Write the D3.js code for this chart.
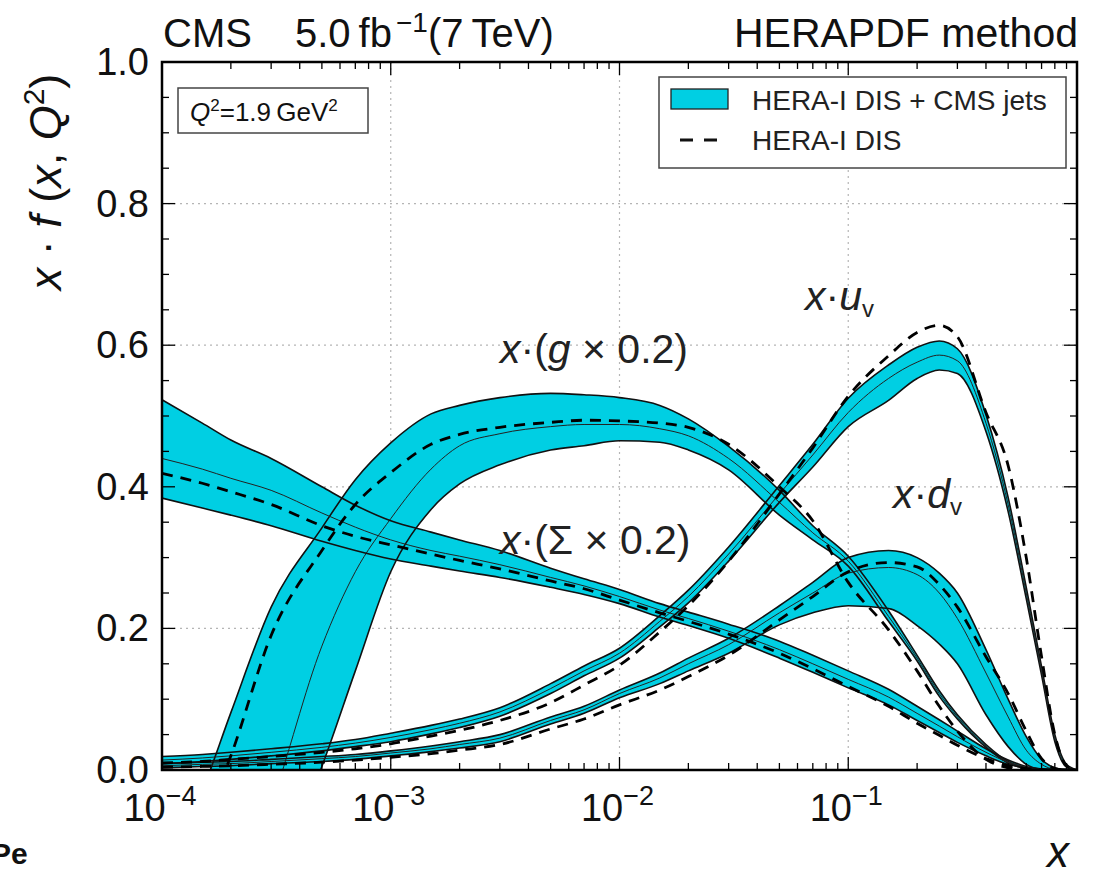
<!DOCTYPE html>
<html><head><meta charset="utf-8">
<script src="https://cdn.jsdelivr.net/npm/d3@7"></script>
<style>body{margin:0;background:#fff}svg{display:block}text{font-family:"Liberation Sans",Arial,sans-serif}</style>
</head><body>
<svg id="c" width="1099" height="877"></svg>
<script>
// ---- data ----
const xs = [1e-4,1.5e-4,2e-4,3e-4,5e-4,7e-4,1e-3,1.5e-3,2e-3,3e-3,5e-3,7e-3,0.01,0.015,0.02,0.03,0.05,0.07,0.1,0.15,0.2,0.25,0.3,0.4,0.5,0.6,0.7,0.8,0.9,1.0];

const gluonUp  = [-0.15,-0.03,0.081,0.23,0.342,0.41,0.462,0.503,0.515,0.526,0.532,0.530,0.526,0.515,0.496,0.457,0.395,0.345,0.302,0.225,0.162,0.112,0.078,0.036,0.012,0.003,0,0,0,0];
const gluonCen = [-0.4,-0.3,-0.2,-0.05,0.175,0.28,0.355,0.425,0.458,0.475,0.485,0.488,0.488,0.482,0.472,0.44,0.378,0.335,0.295,0.217,0.158,0.108,0.075,0.034,0.011,0.002,0,0,0,0];
const gluonLo  = [-0.6,-0.45,-0.33,-0.17,0.005,0.14,0.28,0.368,0.404,0.431,0.452,0.458,0.465,0.463,0.452,0.424,0.36,0.325,0.288,0.21,0.154,0.104,0.072,0.032,0.01,0.002,0,0,0,0];
const gluonDIS = [-0.3,-0.08,0.02,0.19,0.31,0.375,0.42,0.46,0.474,0.484,0.491,0.494,0.493,0.49,0.484,0.46,0.40,0.352,0.265,0.198,0.14,0.09,0.055,0.015,0.003,0,0,0,0,0];

const sigmaUp  = [0.523,0.49,0.466,0.44,0.40,0.374,0.352,0.336,0.325,0.31,0.285,0.27,0.255,0.235,0.223,0.206,0.182,0.162,0.14,0.114,0.09,0.071,0.055,0.03,0.014,0.005,0.0015,0,0,0];
const sigmaCen = [0.44,0.425,0.412,0.395,0.363,0.343,0.325,0.31,0.302,0.29,0.272,0.26,0.245,0.226,0.214,0.196,0.17,0.15,0.128,0.103,0.08,0.062,0.047,0.025,0.011,0.004,0.001,0,0,0];
const sigmaLo  = [0.384,0.37,0.36,0.345,0.323,0.31,0.298,0.288,0.281,0.272,0.258,0.248,0.235,0.216,0.204,0.186,0.158,0.138,0.116,0.092,0.07,0.053,0.039,0.02,0.008,0.003,0.0005,0,0,0];
const sigmaDIS = [0.419,0.405,0.393,0.375,0.345,0.33,0.318,0.305,0.296,0.284,0.267,0.256,0.24,0.222,0.21,0.192,0.165,0.143,0.118,0.09,0.066,0.049,0.035,0.016,0.006,0.002,0,0,0,0];

const uvUp  = [0.019,0.022,0.025,0.03,0.037,0.043,0.052,0.063,0.072,0.088,0.122,0.147,0.172,0.218,0.254,0.315,0.402,0.46,0.525,0.572,0.597,0.606,0.595,0.502,0.385,0.258,0.146,0.05,0.008,0];
const uvCen = [0.014,0.017,0.02,0.025,0.032,0.038,0.046,0.057,0.066,0.082,0.115,0.14,0.165,0.21,0.245,0.305,0.39,0.445,0.505,0.553,0.576,0.586,0.578,0.49,0.375,0.25,0.14,0.045,0.006,0];
const uvLo  = [0.009,0.012,0.015,0.02,0.027,0.033,0.04,0.051,0.06,0.076,0.108,0.133,0.158,0.202,0.236,0.295,0.378,0.428,0.485,0.522,0.553,0.565,0.56,0.478,0.365,0.242,0.134,0.04,0.004,0];
const uvDIS = [0.01,0.012,0.015,0.019,0.025,0.03,0.037,0.048,0.056,0.07,0.095,0.12,0.148,0.195,0.232,0.295,0.39,0.455,0.528,0.585,0.618,0.628,0.612,0.505,0.43,0.3,0.16,0.05,0.006,0];

const dvUp  = [0.009,0.011,0.012,0.015,0.019,0.022,0.027,0.034,0.04,0.05,0.075,0.09,0.113,0.137,0.158,0.186,0.232,0.265,0.3,0.31,0.3,0.278,0.25,0.17,0.1,0.047,0.015,0.003,0,0];
const dvCen = [0.006,0.008,0.009,0.012,0.016,0.019,0.024,0.03,0.036,0.045,0.07,0.085,0.108,0.13,0.15,0.177,0.222,0.25,0.278,0.286,0.276,0.25,0.214,0.137,0.075,0.028,0.008,0.001,0,0];
const dvLo  = [0.003,0.005,0.006,0.009,0.012,0.015,0.02,0.026,0.031,0.04,0.065,0.08,0.102,0.122,0.14,0.165,0.205,0.222,0.232,0.228,0.204,0.178,0.15,0.078,0.033,0.008,0.001,0,0,0];
const dvDIS = [0.004,0.005,0.006,0.008,0.011,0.014,0.018,0.023,0.028,0.036,0.058,0.072,0.092,0.113,0.132,0.162,0.212,0.245,0.28,0.293,0.287,0.262,0.23,0.16,0.108,0.055,0.016,0.002,0,0];

const yTicks = [0.0,0.2,0.4,0.6,0.8,1.0];
const yTickLabels = ["0.0","0.2","0.4","0.6","0.8","1.0"];
const xTicks = [1e-4,1e-3,1e-2,1e-1];
const xTickExp = ["\u22124","\u22123","\u22122","\u22121"];

// ---- layout ----
const L=162,R=1077,T=62,B=770;
const svg=d3.select("#c");
const x=d3.scaleLog().domain([1e-4,1]).range([L,R]);
const y=d3.scaleLinear().domain([0,1]).range([B,T]);
const CYAN="#00cfe3";

svg.append("defs").append("clipPath").attr("id","pa")
  .append("rect").attr("x",L).attr("y",T).attr("width",R-L).attr("height",B-T);

// grid
const grid=svg.append("g").attr("stroke","#b5b5b5").attr("stroke-width",1.2).attr("stroke-dasharray","2,4");
[1e-3,1e-2,1e-1].forEach(v=>grid.append("line").attr("x1",x(v)).attr("x2",x(v)).attr("y1",T).attr("y2",B));
[0.2,0.4,0.6,0.8].forEach(v=>grid.append("line").attr("x1",L).attr("x2",R).attr("y1",y(v)).attr("y2",y(v)));

const plot=svg.append("g").attr("clip-path","url(#pa)");
const pdfs=[
  {up:gluonUp,cen:gluonCen,lo:gluonLo,dis:gluonDIS},
  {up:sigmaUp,cen:sigmaCen,lo:sigmaLo,dis:sigmaDIS},
  {up:uvUp,cen:uvCen,lo:uvLo,dis:uvDIS},
  {up:dvUp,cen:dvCen,lo:dvLo,dis:dvDIS}
];
const curve=d3.curveMonotoneX;
const area=d3.area().x((d,i)=>x(xs[i])).y0(d=>y(d[0])).y1(d=>y(d[1])).curve(curve);
const line=d3.line().x((d,i)=>x(xs[i])).y(d=>y(d)).curve(curve);

pdfs.forEach(p=>{
  plot.append("path").datum(p.lo.map((v,i)=>[v,p.up[i]])).attr("d",area).attr("fill",CYAN).attr("stroke","none");
});
pdfs.forEach(p=>{
  [p.up,p.lo].forEach(arr=>plot.append("path").datum(arr).attr("d",line).attr("fill","none").attr("stroke","#111").attr("stroke-width",1.6));
  plot.append("path").datum(p.cen).attr("d",line).attr("fill","none").attr("stroke","#222").attr("stroke-width",1.0);
});
pdfs.forEach(p=>{
  plot.append("path").datum(p.dis).attr("d",line).attr("fill","none").attr("stroke","#000").attr("stroke-width",2.8).attr("stroke-dasharray","11,8");
});

// frame + ticks
const ax=svg.append("g").attr("stroke","#000");
ax.append("rect").attr("x",L).attr("y",T).attr("width",R-L).attr("height",B-T).attr("fill","none").attr("stroke-width",2.5);
for(let e=-4;e<0;e++){
  for(let m=1;m<10;m++){
    const v=m*Math.pow(10,e); const px=x(v); const len=(m===1)?13:7;
    if(m===1 && e===-4) continue;
    ax.append("line").attr("x1",px).attr("x2",px).attr("y1",B).attr("y2",B-len).attr("stroke-width",1.3);
    ax.append("line").attr("x1",px).attr("x2",px).attr("y1",T).attr("y2",T+len).attr("stroke-width",1.3);
  }
}
for(let k=1;k<20;k++){
  const v=k*0.05; const py=y(v); const len=(k%4===0)?13:7;
  ax.append("line").attr("x1",L).attr("x2",L+len).attr("y1",py).attr("y2",py).attr("stroke-width",1.3);
  ax.append("line").attr("x1",R).attr("x2",R-len).attr("y1",py).attr("y2",py).attr("stroke-width",1.3);
}

// tick labels
yTicks.forEach((v,i)=>svg.append("text").attr("x",149).attr("y",y(v)+13).attr("text-anchor","end")
  .attr("font-size",38).attr("fill","#111").text(yTickLabels[i]));
xTicks.forEach((v,i)=>{
  const t=svg.append("text").attr("x",x(v)-2).attr("y",821).attr("text-anchor","middle").attr("font-size",38).attr("fill","#111");
  t.append("tspan").text("10");
  t.append("tspan").attr("dy",-16).attr("font-size",27).text(xTickExp[i]);
});

// titles
const t1=svg.append("text").attr("x",163).attr("y",47).attr("font-size",40).attr("fill","#111");
t1.append("tspan").text("CMS");
t1.append("tspan").attr("x",295).text("5.0\u2009fb");
t1.append("tspan").attr("dx",4).attr("dy",-15).attr("font-size",28).text("\u22121");
t1.append("tspan").attr("dy",15).text("(7\u2009TeV)");
svg.append("text").attr("x",1078).attr("y",47).attr("text-anchor","end").attr("font-size",41).attr("fill","#111").text("HERAPDF method");

// y axis label
const yl=svg.append("text").attr("transform","translate(61,182) rotate(-90)").attr("text-anchor","middle").attr("font-size",45).attr("fill","#111");
yl.append("tspan").attr("font-style","italic").text("x");
yl.append("tspan").text(" \u00b7 ");
yl.append("tspan").attr("font-style","italic").text("f");
yl.append("tspan").text(" (");
yl.append("tspan").attr("font-style","italic").text("x");
yl.append("tspan").text(", ");
yl.append("tspan").attr("font-style","italic").text("Q");
yl.append("tspan").attr("dy",-17).attr("font-size",30).text("2");
yl.append("tspan").attr("dy",17).text(")");

// x axis label
svg.append("text").attr("x",1058).attr("y",867).attr("text-anchor","middle").attr("font-size",44).attr("font-style","italic").attr("fill","#111").text("x");

// partial text bottom-left (cut by the left edge in the reference too)
svg.append("text").attr("x",-9).attr("y",864).attr("font-size",30).attr("font-weight","bold").attr("fill","#111").text("Pe");

// Q2 box
svg.append("rect").attr("x",178).attr("y",88).attr("width",190).attr("height",45).attr("fill","#fff").attr("stroke","#444").attr("stroke-width",1.5);
const qt=svg.append("text").attr("x",190).attr("y",121).attr("font-size",26).attr("fill","#111");
qt.append("tspan").attr("font-style","italic").text("Q");
qt.append("tspan").attr("dy",-10).attr("font-size",17).text("2");
qt.append("tspan").attr("dy",10).text("=1.9\u2009GeV");
qt.append("tspan").attr("dy",-10).attr("font-size",17).text("2");

// legend
svg.append("rect").attr("x",659).attr("y",77).attr("width",407).attr("height",91).attr("fill","#fff").attr("stroke","#444").attr("stroke-width",1.5);
svg.append("rect").attr("x",671).attr("y",89).attr("width",57).attr("height",20).attr("fill",CYAN).attr("stroke","#222").attr("stroke-width",1.3);
svg.append("text").attr("x",752).attr("y",110).attr("font-size",28).attr("fill","#222").text("HERA-I DIS + CMS jets");
svg.append("line").attr("x1",680).attr("x2",718).attr("y1",140).attr("y2",140).attr("stroke","#111").attr("stroke-width",3).attr("stroke-dasharray","13,11");
svg.append("text").attr("x",752).attr("y",150).attr("font-size",28).attr("fill","#222").text("HERA-I DIS");

// curve labels
function lab(xp,yp,parts){
  const t=svg.append("text").attr("x",xp).attr("y",yp).attr("font-size",41).attr("fill","#222");
  parts.forEach(p=>{const s=t.append("tspan").text(p.t); if(p.i) s.attr("font-style","italic"); if(p.dy) s.attr("dy",p.dy); if(p.fs) s.attr("font-size",p.fs);});
}
lab(500,363,[{t:"x",i:1},{t:"\u00b7("},{t:"g",i:1},{t:" \u00d7 0.2)"}]);
lab(500,554,[{t:"x",i:1},{t:"\u00b7(\u03a3 \u00d7 0.2)"}]);
lab(805,310,[{t:"x",i:1},{t:"\u00b7"},{t:"u",i:1},{t:"v",dy:7,fs:24}]);
lab(893,508,[{t:"x",i:1},{t:"\u00b7"},{t:"d",i:1},{t:"v",dy:7,fs:24}]);
</script>
</body></html>
